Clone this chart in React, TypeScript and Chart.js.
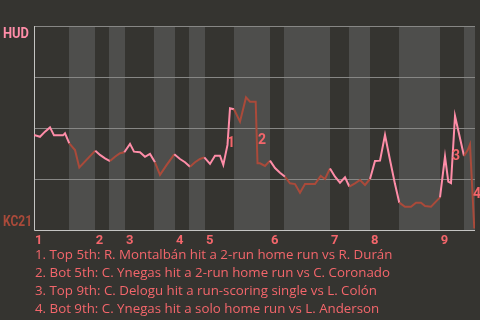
import React, { useEffect, useRef } from "react";
import { Chart, registerables } from "chart.js";

Chart.register(...registerables);

// Game progress (plate appearance index) and HUD win probability
const progress = [
  0, 1.2, 2.2, 3.2, 4.0, 5.8, 6.2, 7.06, 8.2, 9.06,
  12.26, 13.2, 14.2, 15.2, 16.2, 17.2, 18.06, 19.2, 20.0, 21.2,
  22.2, 23.2, 24.2, 25.2, 26.54, 28.06, 29.2, 30.2, 31.2, 32.2,
  33.2, 34.06, 35.2, 36.2, 37.2, 37.86, 38.7, 39.2, 40.0, 41.2,
  42.4, 43.2, 44.34, 44.7, 45.2, 46.2, 47.2, 48.2, 49.2, 50.2,
  51.2, 52.2, 53.2, 54.2, 56.2, 57.34, 58.2, 59.2, 60.2, 61.2,
  62.2, 63.06, 64.2, 65.2, 66.2, 67.2, 68.2, 69.2, 70.2, 71.2,
  72.2, 73.06, 74.2, 75.4, 76.4, 77.4, 78.2, 79.4, 81.2, 82.2,
  82.86, 83.4, 84.2, 86.0, 86.74, 87.2, 87.54, 88.06,
];
const hudWinProb = [
  0.466, 0.457, 0.482, 0.503, 0.464, 0.464, 0.474, 0.425, 0.392, 0.307,
  0.389, 0.368, 0.351, 0.338, 0.359, 0.376, 0.381, 0.422, 0.384, 0.381,
  0.359, 0.373, 0.332, 0.27, 0.319, 0.371, 0.348, 0.332, 0.31, 0.332,
  0.348, 0.356, 0.324, 0.364, 0.364, 0.319, 0.417, 0.597, 0.592, 0.531,
  0.65, 0.629, 0.629, 0.327, 0.327, 0.314, 0.34, 0.304, 0.281, 0.261,
  0.229, 0.225, 0.183, 0.225, 0.225, 0.265, 0.25, 0.302, 0.261, 0.232,
  0.258, 0.213, 0.229, 0.245, 0.221, 0.25, 0.338, 0.34, 0.466, 0.343,
  0.225, 0.134, 0.114, 0.114, 0.134, 0.134, 0.118, 0.114, 0.16, 0.36,
  0.237, 0.23, 0.559, 0.363, 0.392, 0.42, 0.255, 0.007,
];

// Half-inning boundaries (top, bottom, top, bottom, ...)
const halfInningBounds = [
  0, 7, 12.14, 14.94, 18.2, 24, 28.2, 31, 34.2, 39.94,
  47.2, 50, 59.2, 63, 67.2, 73, 81.14, 86, 88.2,
];
const inningLabels = ["1", "2", "3", "4", "5", "6", "7", "8", "9"];
const gridValues = [0.25, 0.5, 0.75, 1];

const teamTop = "HUD";
const teamBottom = "KC21";

const noteLabels = ["1", "2", "3", "4"];
const noteX = [39.4, 45.6, 84.4, 88.6];
const noteY = [0.426, 0.441, 0.358, 0.176];
const noteTexts = [
  "1. Top 5th: R. Montalbán hit a 2-run home run vs R. Durán",
  "2. Bot 5th: C. Ynegas hit a 2-run home run vs C. Coronado",
  "3. Top 9th: C. Delogu hit a run-scoring single vs L. Colón",
  "4. Bot 9th: C. Ynegas hit a solo home run vs L. Anderson",
];

const BG = "#353430";
const BAND_LIGHT = "#4e4e4c";
const PINK = "#ff8da8";
const BROWN = "#aa4a3a";
const NOTE = "#f4666b";
const GRID = "#878785";
const AXIS = "#c4c4c2";

function isTopHalf(v: number): boolean {
  for (let i = 0; i < halfInningBounds.length - 1; i++) {
    if (v >= halfInningBounds[i] && v < halfInningBounds[i + 1]) return i % 2 === 0;
  }
  return false;
}

const decorPlugin = {
  id: "decor",
  beforeDatasetsDraw(chart: any) {
    const { ctx, chartArea: a, scales } = chart;
    const x = scales.x;
    const y = scales.y;
    ctx.save();
    ctx.fillStyle = BG;
    ctx.fillRect(0, 0, chart.width, chart.height);
    for (let i = 0; i < halfInningBounds.length - 1; i++) {
      const x0 = x.getPixelForValue(halfInningBounds[i]);
      const x1 = x.getPixelForValue(halfInningBounds[i + 1]);
      ctx.fillStyle = i % 2 === 0 ? BG : BAND_LIGHT;
      ctx.fillRect(Math.round(x0), a.top, Math.round(x1) - Math.round(x0), a.bottom - a.top);
    }
    ctx.lineWidth = 1;
    ctx.strokeStyle = GRID;
    for (const v of gridValues) {
      const py = Math.round(y.getPixelForValue(v)) + 0.5;
      ctx.beginPath();
      ctx.moveTo(a.left, py);
      ctx.lineTo(a.right, py);
      ctx.stroke();
    }
    ctx.strokeStyle = AXIS;
    const by = Math.round(y.getPixelForValue(0)) + 0.5;
    ctx.beginPath();
    ctx.moveTo(a.left + 0.5, a.top);
    ctx.lineTo(a.left + 0.5, by);
    ctx.lineTo(a.right, by);
    ctx.stroke();
    ctx.restore();
  },
  afterDraw(chart: any) {
    const { ctx, scales } = chart;
    const x = scales.x;
    const y = scales.y;
    ctx.save();
    ctx.textBaseline = "alphabetic";
    ctx.textAlign = "left";
    ctx.font = "bold 14px Roboto";
    ctx.fillStyle = PINK;
    ctx.fillText(teamTop, 3, 38, 26);
    ctx.fillStyle = BROWN;
    ctx.fillText(teamBottom, 3, 226, 29);

    ctx.fillStyle = NOTE;
    ctx.font = "bold 13px Roboto";
    for (let i = 0; i < inningLabels.length; i++) {
      const px = x.getPixelForValue(halfInningBounds[i * 2]);
      ctx.fillText(inningLabels[i], px + 1, 243.5);
    }
    ctx.textAlign = "center";
    ctx.textBaseline = "middle";
    ctx.font = "bold 14px Roboto";
    for (let i = 0; i < noteLabels.length; i++) {
      ctx.fillText(noteLabels[i], x.getPixelForValue(noteX[i]), y.getPixelForValue(noteY[i]));
    }
    ctx.textAlign = "left";
    ctx.textBaseline = "alphabetic";
    ctx.font = "13.3px 'Open Sans'";
    for (let i = 0; i < noteTexts.length; i++) {
      ctx.fillText(noteTexts[i], 35, 258.5 + i * 18.3);
    }
    ctx.restore();
  },
};

export default function App() {
  const ref = useRef<HTMLCanvasElement | null>(null);
  useEffect(() => {
    if (!ref.current) return;
    const chart = new Chart(ref.current, {
      type: "line",
      data: {
        datasets: [
          {
            data: progress.map((p, i) => ({ x: p, y: hudWinProb[i] })),
            borderWidth: 2,
            borderColor: PINK,
            pointRadius: 0,
            tension: 0,
            segment: {
              borderColor: (c: any) =>
                isTopHalf((c.p0.parsed.x + c.p1.parsed.x) / 2) ? PINK : BROWN,
            },
          },
        ],
      },
      options: {
        responsive: false,
        animation: false,
        events: [],
        layout: { padding: { left: 34, right: 5, top: 26, bottom: 90 } },
        plugins: { legend: { display: false }, tooltip: { enabled: false } },
        scales: {
          x: { type: "linear", display: false, min: 0, max: 88.2 },
          y: { type: "linear", display: false, min: 0, max: 1 },
        },
      },
      plugins: [decorPlugin],
    });
    return () => chart.destroy();
  }, []);
  return (
    <div style={{ position: "fixed", left: 0, top: 0, width: 480, height: 320, background: BG }}>
      <canvas ref={ref} width={480} height={320} style={{ display: "block" }} />
    </div>
  );
}
